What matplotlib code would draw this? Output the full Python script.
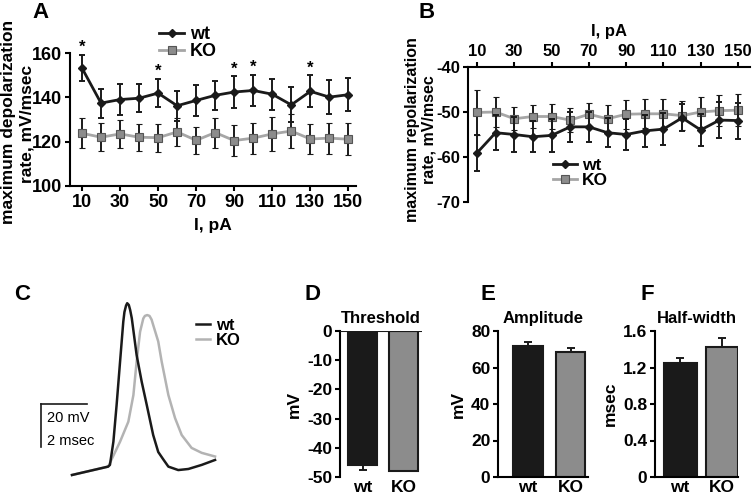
import matplotlib
matplotlib.use("Agg")
import matplotlib.pyplot as plt

plt.rcParams['font.family'] = ['Liberation Sans', 'DejaVu Sans']
plt.rcParams['font.weight'] = 'bold'
plt.rcParams['axes.labelweight'] = 'bold'
plt.rcParams['axes.titleweight'] = 'bold'
plt.rcParams['axes.unicode_minus'] = False
plt.rcParams['axes.linewidth'] = 1.5
plt.rcParams['xtick.major.width'] = 1.5
plt.rcParams['ytick.major.width'] = 1.5
plt.rcParams['xtick.major.size'] = 3.5
plt.rcParams['ytick.major.size'] = 3.5

# data
current = [10, 20, 30, 40, 50, 60, 70, 80, 90, 100, 110, 120, 130, 140, 150]

depol_wt = [153.2, 137.4, 139.0, 139.6, 141.9, 136.2, 138.6, 140.9, 142.4, 143.1, 141.4, 136.6, 142.7, 140.1, 141.2]
depol_wt_err = [5.8, 6.5, 6.9, 6.4, 6.4, 6.8, 6.9, 6.6, 7.0, 7.0, 7.0, 7.9, 7.2, 7.5, 7.5]
depol_ko = [123.8, 122.0, 123.5, 122.0, 121.8, 124.4, 120.6, 124.1, 120.5, 121.6, 123.5, 124.8, 121.2, 121.6, 121.1]
depol_ko_err = [6.8, 6.2, 6.2, 6.0, 6.3, 6.5, 6.0, 6.8, 6.8, 7.0, 7.5, 7.5, 6.8, 7.0, 7.3]
signif = [10, 50, 90, 100, 130]

repol_wt = [-59.1, -54.6, -55.0, -55.5, -55.2, -53.3, -53.3, -54.6, -55.0, -54.2, -53.8, -51.3, -54.0, -51.8, -51.9]
repol_wt_err = [4.0, 3.9, 3.8, 3.4, 3.6, 3.4, 3.4, 3.2, 3.4, 3.6, 3.6, 3.0, 3.6, 4.0, 4.0]
repol_ko = [-50.1, -50.0, -51.5, -51.0, -51.0, -51.8, -50.5, -51.5, -50.5, -50.4, -50.4, -50.8, -50.0, -49.7, -49.6]
repol_ko_err = [5.0, 3.3, 2.6, 2.6, 2.7, 2.6, 2.6, 3.0, 3.2, 3.2, 3.4, 3.2, 3.4, 3.4, 3.6]

# AP traces (time in ms, voltage in mV)
t_wt = [0.00, 1.57, 1.65, 1.80, 1.94, 2.09, 2.23, 2.28, 2.35, 2.40, 2.47, 2.53, 2.60, 2.81, 3.03,
        3.25, 3.53, 3.75, 3.96, 4.19, 4.62, 5.06, 5.64, 6.22]
v_wt = [-65.0, -61.1, -60.3, -49.5, -32.4, -12.3, 6.3, 10.8, 13.8, 14.9, 14.1, 11.7, 7.9, -9.2, -21.6,
        -32.4, -46.4, -54.3, -57.6, -61.1, -62.7, -62.2, -60.3, -58.0]
t_ko = [0.00, 1.57, 1.65, 2.09, 2.45, 2.67, 2.81, 2.96, 3.10, 3.17, 3.27, 3.37, 3.46, 3.53, 3.75,
        3.90, 4.19, 4.48, 4.77, 5.20, 5.64, 6.22]
v_ko = [-65.0, -61.1, -59.4, -49.5, -40.2, -27.8, -12.3, 1.6, 7.8, 9.0, 9.4, 9.0, 7.3, 4.8, -2.9,
        -12.3, -27.8, -38.5, -46.4, -52.4, -54.7, -56.4]

groups = ['wt', 'KO']
threshold = [-46.0, -47.8]
threshold_err = [1.7, 0.3]
amplitude = [72.0, 68.5]
amplitude_err = [2.0, 2.0]
halfwidth = [1.25, 1.42]
halfwidth_err = [0.05, 0.10]

W, H = 756, 495
BLACK = '#1a1a1a'
GRAY_LINE = '#a6a6a6'
GRAY_MARK = '#8c8c8c'


def box(x0, y0, x1, y1):
    return [x0 / W, 1 - y1 / H, (x1 - x0) / W, (y1 - y0) / H]


def vtext(x, y, s, size):
    fig.text(x / W, 1 - y / H, s, rotation=90, ha='center', va='center', fontsize=size,
             fontweight='bold')


def curves(ax, wt, wt_err, ko, ko_err):
    eb_ko = ax.errorbar(current, ko, yerr=ko_err, color=GRAY_LINE, lw=2, marker='s', ms=6,
                        mfc=GRAY_MARK, mec='#555555', mew=0.8, ecolor=BLACK, capsize=2.5,
                        elinewidth=1.4, capthick=1.4, zorder=2)
    eb_wt = ax.errorbar(current, wt, yerr=wt_err, color=BLACK, lw=2, marker='D', ms=4,
                        capsize=2.5, elinewidth=1.4, capthick=1.4, zorder=3)
    return [eb_wt[0], eb_ko[0]]


fig = plt.figure(figsize=(W / 100, H / 100), dpi=100)

# ---- A
axA = fig.add_axes(box(70, 53, 356, 186))
hA = curves(axA, depol_wt, depol_wt_err, depol_ko, depol_ko_err)
for c in signif:
    i = current.index(c)
    axA.annotate('*', (c, depol_wt[i] + depol_wt_err[i]), xytext=(0, 0),
                 textcoords='offset points', ha='center', va='bottom', fontsize=12)
axA.set_xlim(3.7, 154)
axA.set_ylim(100, 160)
axA.set_xticks(range(10, 151, 20))
axA.set_yticks([100, 120, 140, 160])
axA.tick_params(labelsize=13, pad=2)
axA.spines[['top', 'right']].set_visible(False)
axA.set_xlabel('I, pA', fontsize=12.5, labelpad=5)
vtext(9, 122, 'maximum depolarization', 12.5)
vtext(27, 124, 'rate, mV/msec', 12.5)
axA.legend(hA, groups, loc='upper left', bbox_to_anchor=(0.28, 1.27), frameon=False, fontsize=13,
           handlelength=1.4, handletextpad=0.3, labelspacing=0.0, borderpad=0)
fig.text(32 / W, 1 - 18 / H, 'A', fontsize=16, fontweight='bold')

# ---- B
axB = fig.add_axes(box(468, 67, 750, 202))
hB = curves(axB, repol_wt, repol_wt_err, repol_ko, repol_ko_err)
axB.set_xlim(5.2, 156.4)
axB.set_ylim(-70, -40)
axB.set_xticks(range(10, 151, 20))
axB.set_yticks([-70, -60, -50, -40])
axB.xaxis.tick_top()
axB.xaxis.set_label_position('top')
axB.tick_params(labelsize=12, pad=2)
axB.spines[['bottom', 'right']].set_visible(False)
axB.set_xlabel('I, pA', fontsize=12, labelpad=6)
vtext(413, 130, 'maximum repolarization', 11.5)
vtext(429, 130, 'rate, mV/msec', 11.5)
axB.legend(hB, groups, loc='upper left', bbox_to_anchor=(0.27, 0.39), frameon=False,
           fontsize=12.5, handlelength=1.4, handletextpad=0.3, labelspacing=0.0, borderpad=0)
fig.text(418 / W, 1 - 18 / H, 'B', fontsize=16, fontweight='bold')

# ---- C
axC = fig.add_axes(box(30, 290, 230, 485))
axC.plot(t_ko, v_ko, color='#b3b3b3', lw=1.8, label='KO', zorder=2)
axC.plot(t_wt, v_wt, color=BLACK, lw=1.8, label='wt', zorder=3)
axC.set_xlim(-1.826, 6.87)
axC.set_ylim(-69.65, 21.05)
axC.axis('off')
sb_t, sb_v = -1.35, -32
axC.plot([sb_t, sb_t + 2], [sb_v, sb_v], color=BLACK, lw=1.2)
axC.plot([sb_t, sb_t], [sb_v, sb_v - 20], color=BLACK, lw=1.2)
axC.text(sb_t + 0.25, sb_v - 6.5, '20 mV', fontsize=10.5, fontweight='normal', va='center')
axC.text(sb_t + 0.25, sb_v - 17.2, '2 msec', fontsize=10.5, fontweight='normal', va='center')
hC, lC = axC.get_legend_handles_labels()
axC.legend(hC[::-1], lC[::-1], loc='upper left', bbox_to_anchor=(0.79, 0.9), frameon=False,
           fontsize=12, handlelength=0.8, handletextpad=0.4, labelspacing=0.0, borderpad=0)
fig.text(14 / W, 1 - 300 / H, 'C', fontsize=16, fontweight='bold')


# ---- D, E, F
def bar_panel(rect, vals, errs, ylim, yticks, ylabel, title, letter, letter_x, xlim, down=False, width=0.7):
    ax = fig.add_axes(rect)
    ax.bar([0, 1], vals, width=width, color=[BLACK, GRAY_MARK], edgecolor=BLACK, lw=1.5, zorder=2)
    lo = [e if down else 0 for e in errs]
    hi = [0 if down else e for e in errs]
    ax.errorbar([0, 1], vals, yerr=[lo, hi], fmt='none', ecolor=BLACK, elinewidth=1.4,
                capsize=3, capthick=1.4, zorder=1)
    ax.set_ylim(*ylim)
    ax.set_xlim(*xlim)
    ax.set_yticks(yticks)
    ax.set_xticks([0, 1])
    ax.set_xticklabels(groups)
    ax.tick_params(axis='x', length=0, pad=4)
    ax.tick_params(labelsize=12.5, pad=2)
    ax.spines[['top', 'right']].set_visible(False)
    if down:
        ax.spines['bottom'].set_visible(False)
        ax.axhline(0, color=BLACK, lw=1.5, zorder=3)
    ax.set_ylabel(ylabel, fontsize=12.5, labelpad=4)
    ax.set_title(title, fontsize=12, pad=6)
    fig.text(letter_x / W, 1 - 300 / H, letter, fontsize=16, fontweight='bold')
    return ax


axD = bar_panel(box(340, 331, 422, 477), threshold, threshold_err, (-50, 0),
                [-50, -40, -30, -20, -10, 0], 'mV', 'Threshold', 'D', 305, (-0.55, 1.45), down=True)
axE = bar_panel(box(498, 331, 588, 477), amplitude, amplitude_err, (0, 80),
                [0, 20, 40, 60, 80], 'mV', 'Amplitude', 'E', 480, (-0.7, 1.41))
axF = bar_panel(box(655, 331, 738, 477), halfwidth, halfwidth_err, (0, 1.6),
                [0, 0.4, 0.8, 1.2, 1.6], 'msec', 'Half-width', 'F', 640, (-0.6, 1.38), width=0.78)
axF.set_yticklabels(['0', '0.4', '0.8', '1.2', '1.6'])

fig.savefig('out.png', dpi=100)
